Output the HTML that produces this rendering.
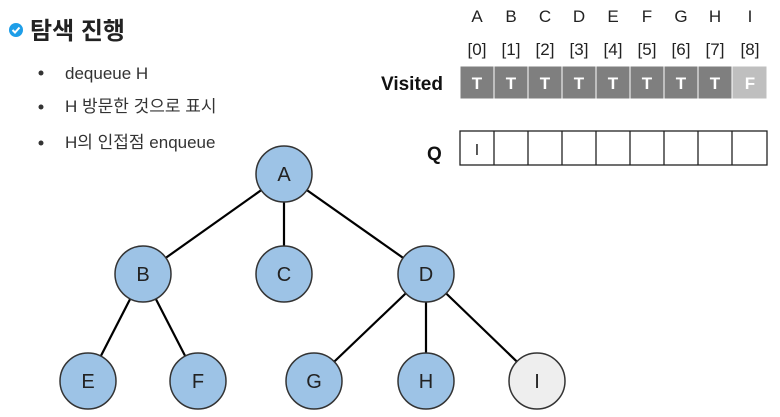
<!DOCTYPE html><html><head><style>
body{margin:0;width:780px;height:417px;background:#fff;overflow:hidden;font-family:"Liberation Sans","Noto Sans CJK KR",sans-serif;position:relative}
</style></head><body>
<svg width="780" height="417" style="position:absolute;left:0;top:0" font-family="Liberation Sans, Noto Sans CJK KR, sans-serif">
<circle cx="16" cy="30" r="7" fill="#1e9ee8"/><path d="M12.5 30 l2.5 2.5 l4.5-5" stroke="#fff" stroke-width="2" fill="none"/>
<text x="30" y="39" font-size="24" font-weight="bold" fill="#222">탐색 진행</text>
<g font-size="17" fill="#333"><circle cx="41" cy="73" r="2.5" fill="#333"/><text x="65" y="79">dequeue H</text>
<circle cx="41" cy="107" r="2.5" fill="#333"/><text x="65" y="112">H 방문한 것으로 표시</text>
<circle cx="41" cy="143" r="2.5" fill="#333"/><text x="65" y="148">H의 인접점 enqueue</text></g>
<g stroke="#000" stroke-width="2.2">
<line x1="284" y1="174" x2="143" y2="274"/><line x1="284" y1="174" x2="284" y2="274"/><line x1="284" y1="174" x2="426" y2="274"/>
<line x1="143" y1="274" x2="88" y2="381"/><line x1="143" y1="274" x2="198" y2="381"/>
<line x1="426" y1="274" x2="314" y2="381"/><line x1="426" y1="274" x2="426" y2="381"/><line x1="426" y1="274" x2="537" y2="381"/></g>
<g stroke="#333" stroke-width="1.5" fill="#9dc3e6">
<circle cx="284" cy="174" r="28"/><circle cx="143" cy="274" r="28"/><circle cx="284" cy="274" r="28"/><circle cx="426" cy="274" r="28"/>
<circle cx="88" cy="381" r="28"/><circle cx="198" cy="381" r="28"/><circle cx="314" cy="381" r="28"/><circle cx="426" cy="381" r="28"/>
<circle cx="537" cy="381" r="28" fill="#eeeeee"/></g>
<g font-size="20" fill="#222" text-anchor="middle">
<text x="284" y="181">A</text><text x="143" y="281">B</text><text x="284" y="281">C</text><text x="426" y="281">D</text>
<text x="88" y="388">E</text><text x="198" y="388">F</text><text x="314" y="388">G</text><text x="426" y="388">H</text><text x="537" y="388">I</text></g>
<text x="381" y="90" font-size="19" font-weight="bold" fill="#111">Visited</text>
<text x="427" y="160" font-size="19" font-weight="bold" fill="#111">Q</text>
<g font-size="17" fill="#222" text-anchor="middle">
<text x="477" y="22">A</text><text x="511" y="22">B</text><text x="545" y="22">C</text><text x="579" y="22">D</text><text x="613" y="22">E</text><text x="647" y="22">F</text><text x="681" y="22">G</text><text x="715" y="22">H</text><text x="750" y="22">I</text>
<text x="477" y="55">[0]</text><text x="511" y="55">[1]</text><text x="545" y="55">[2]</text><text x="579" y="55">[3]</text><text x="613" y="55">[4]</text><text x="647" y="55">[5]</text><text x="681" y="55">[6]</text><text x="715" y="55">[7]</text><text x="750" y="55">[8]</text></g>
<g fill="#7f7f7f" stroke="#fff" stroke-width="1">
<rect x="460" y="66" width="34" height="33"/><rect x="494" y="66" width="34" height="33"/><rect x="528" y="66" width="34" height="33"/><rect x="562" y="66" width="34" height="33"/><rect x="596" y="66" width="34" height="33"/><rect x="630" y="66" width="34" height="33"/><rect x="664" y="66" width="34" height="33"/><rect x="698" y="66" width="34" height="33"/><rect x="732" y="66" width="35" height="33" fill="#bfbfbf"/></g>
<g font-size="17" font-weight="bold" fill="#fff" text-anchor="middle">
<text x="477" y="89">T</text><text x="511" y="89">T</text><text x="545" y="89">T</text><text x="579" y="89">T</text><text x="613" y="89">T</text><text x="647" y="89">T</text><text x="681" y="89">T</text><text x="715" y="89">T</text><text x="750" y="89">F</text></g>
<g fill="none" stroke="#222" stroke-width="1.3">
<rect x="460" y="131" width="307" height="34"/>
<path d="M494 131v34M528 131v34M562 131v34M596 131v34M630 131v34M664 131v34M698 131v34M732 131v34"/></g>
<text x="477" y="155" font-size="16" fill="#222" text-anchor="middle">I</text>
</svg>
</body></html>
